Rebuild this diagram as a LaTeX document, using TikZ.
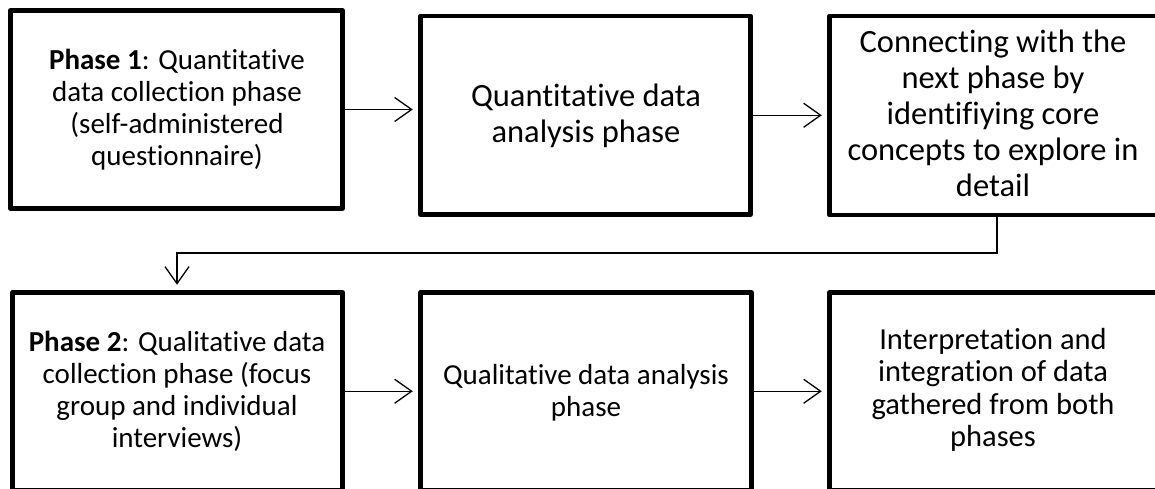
\documentclass[tikz,border=0pt]{standalone}
\usepackage{fontspec}
\setmainfont{Carlito}[Ligatures={NoCommon}]
\usetikzlibrary{arrows.meta}
\begin{document}
\begin{tikzpicture}[x=1pt,y=-1pt,
  box/.style={draw=black, line width=4.5pt, rectangle, inner sep=0pt, line join=round},
  txt/.style={align=center, inner sep=0pt, font=\fontsize{29}{32}\selectfont},
  bigtxt/.style={txt, font=\fontsize{32.5}{36}\selectfont},
  midtxt/.style={txt, font=\fontsize{30.5}{32.5}\selectfont},
  arr/.style={draw=black, line width=1.3pt, -{Straight Barb[length=17pt,width=24pt]}, shorten >=5.5pt}]
\useasboundingbox (0,0) rectangle (1155,489);
\fill[white] (0,0) rectangle (1155,489);
\clip (0,0) rectangle (1155,489);
% top row
\node[box, minimum width=332pt, minimum height=198pt] (box1) at (176.5,109.5) {};
\node[box, minimum width=330pt, minimum height=198.5pt] (box2) at (585.5,115.25) {};
\node[box, minimum width=335pt, minimum height=199pt] (box3) at (997,115.5) {};
% bottom row
\node[box, minimum width=330pt, minimum height=197.5pt] (box4) at (177.5,391.25) {};
\node[box, minimum width=331pt, minimum height=197.5pt] (box5) at (586,391.25) {};
\node[box, minimum width=335pt, minimum height=197.5pt] (box6) at (997,391.25) {};
% texts
\node[txt] (t1) at (177,110) {\textbf{Phase 1}: Quantitative\\data collection phase\\(self-administered\\questionnaire)};
\node[bigtxt] (t2) at (586,116) {Quantitative data\\analysis phase};
\node[bigtxt] (t3) at (993,113) {Connecting with the\\next phase by\\identifiying core\\concepts to explore in\\detail};
\node[txt] (t4) at (177,391.5) {\textbf{Phase 2}: Qualitative data\\collection phase (focus\\group and individual\\interviews)};
\node[txt] (t5) at (586,392.5) {Qualitative data analysis\\phase};
\node[midtxt] (t6) at (993,390) {Interpretation and\\integration of data\\gathered from both\\phases};
% connectors
\draw[arr] (box1.east) -- (box1.east -| box2.west);
\draw[arr] (box2.east) -- (box2.east -| box3.west);
\coordinate (turn) at (177,253);
\draw[arr] (box3.south) |- (turn) -- (box4.north -| turn);
\draw[arr] (box4.east) -- (box4.east -| box5.west);
\draw[arr] (box5.east) -- (box5.east -| box6.west);
\end{tikzpicture}
\end{document}
